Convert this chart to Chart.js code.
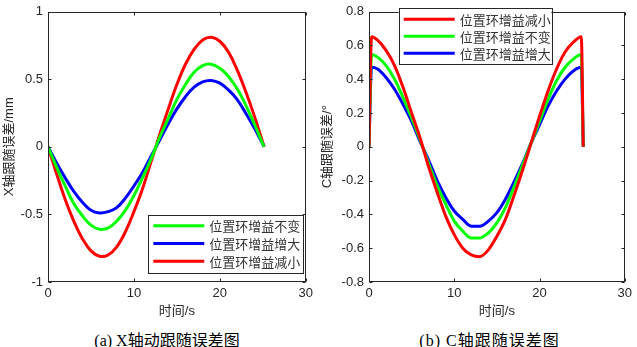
<!DOCTYPE html>
<html>
<head>
<meta charset="utf-8">
<script src="https://cdn.jsdelivr.net/npm/chart.js"></script>
<style>
  body { margin: 0; background: #fff; }
  #wrap { position: relative; width: 637px; height: 347px; overflow: hidden; }
  #chartA { position: absolute; left: 0; top: 0; }
  #chartB { position: absolute; left: 318px; top: 0; }
  .cap { position: absolute; top: 327px; height: 20px; line-height: 20px; font: 16px "Liberation Serif", "Noto Sans CJK SC", serif; color: #000; text-align: center; white-space: nowrap; }
</style>
</head>
<body>
<div id="wrap">
  <canvas id="chartA" width="318" height="322"></canvas>
  <canvas id="chartB" width="319" height="322"></canvas>
  <div class="cap" style="left:0;width:334px">(a) X轴动跟随误差图</div>
  <div class="cap" style="left:318px;width:343px;letter-spacing:1px">(b) C轴跟随误差图</div>
</div>
<script>
// (a) X axis following error, mm
const timeA = [0, 1, 2, 3, 4, 5, 6, 7, 8, 9, 10, 11, 12, 13, 14, 15, 16, 17, 18, 19, 20, 21, 22, 23, 24, 25, 25.15];
const xKeep = [0, -0.15, -0.29, -0.42, -0.51, -0.58, -0.61, -0.60, -0.55, -0.47, -0.36, -0.23, -0.09, 0.07, 0.21, 0.35, 0.46, 0.55, 0.60, 0.61, 0.58, 0.52, 0.43, 0.31, 0.17, 0.02, 0];
const xUp   = [0, -0.12, -0.23, -0.33, -0.41, -0.47, -0.49, -0.48, -0.45, -0.38, -0.29, -0.19, -0.07, 0.05, 0.17, 0.28, 0.37, 0.44, 0.48, 0.49, 0.47, 0.42, 0.35, 0.25, 0.14, 0.02, 0];
const xDown = [0, -0.20, -0.39, -0.55, -0.68, -0.77, -0.81, -0.80, -0.74, -0.63, -0.48, -0.31, -0.11, 0.09, 0.28, 0.46, 0.61, 0.72, 0.79, 0.81, 0.78, 0.70, 0.57, 0.41, 0.23, 0.03, 0];

// (b) C axis following error, degrees
const timeB = [0, 0.3, 1, 2, 3, 4, 5, 6, 7, 8, 9, 10, 11, 12, 13, 14, 15, 16, 17, 18, 19, 20, 21, 22, 23, 24, 24.9, 25.13];
const cDown = [0, 0.65, 0.63, 0.57, 0.48, 0.35, 0.20, 0.05, -0.12, -0.27, -0.41, -0.52, -0.60, -0.64, -0.65, -0.61, -0.53, -0.43, -0.29, -0.14, 0.02, 0.18, 0.33, 0.46, 0.56, 0.62, 0.65, 0];
const cKeep = [0, 0.545, 0.53, 0.48, 0.40, 0.29, 0.17, 0.04, -0.10, -0.23, -0.34, -0.44, -0.50, -0.54, -0.54, -0.51, -0.45, -0.36, -0.24, -0.11, 0.02, 0.15, 0.28, 0.39, 0.47, 0.52, 0.545, 0];
const cUp   = [0, 0.47, 0.46, 0.41, 0.34, 0.25, 0.15, 0.03, -0.08, -0.20, -0.30, -0.38, -0.43, -0.47, -0.47, -0.44, -0.39, -0.31, -0.21, -0.10, 0.02, 0.13, 0.24, 0.33, 0.40, 0.45, 0.47, 0];

const xTicks = [0, 10, 20, 30];
const yTicksA = [-1, -0.5, 0, 0.5, 1];
const yTicksB = [-0.8, -0.6, -0.4, -0.2, 0, 0.2, 0.4, 0.6, 0.8];

const nameKeep = '位置环增益不变';
const nameUp = '位置环增益增大';
const nameDown = '位置环增益减小';

const axisColor = '#262626';
const sansFont = '"Liberation Sans", "Noto Sans CJK SC", sans-serif';

function pts(time, vals) {
  return time.map((t, i) => ({ x: t, y: vals[i] }));
}

function line(label, color, time, vals, mode) {
  return {
    label: label,
    data: pts(time, vals),
    borderColor: color,
    backgroundColor: color,
    borderWidth: 3,
    pointRadius: 0,
    fill: false,
    tension: 0.4,
    cubicInterpolationMode: mode,
  };
}

// box around the plot with inward tick marks (matlab look)
const framePlugin = {
  id: 'frame',
  afterDatasetsDraw(chart) {
    const { ctx, chartArea: a, scales } = chart;
    const l = Math.round(a.left) + 0.5, r = Math.round(a.right) - 0.5;
    const t = Math.round(a.top) + 0.5, b = Math.round(a.bottom) - 0.5;
    ctx.save();
    ctx.strokeStyle = axisColor;
    ctx.lineWidth = 1;
    ctx.strokeRect(l, t, r - l, b - t);
    ctx.beginPath();
    scales.x.ticks.forEach(tk => {
      const px = Math.round(scales.x.getPixelForValue(tk.value)) + 0.5;
      ctx.moveTo(px, b); ctx.lineTo(px, b - 3);
      ctx.moveTo(px, t); ctx.lineTo(px, t + 3);
    });
    scales.y.ticks.forEach(tk => {
      const py = Math.round(scales.y.getPixelForValue(tk.value)) + 0.5;
      ctx.moveTo(l, py); ctx.lineTo(l + 3, py);
      ctx.moveTo(r, py); ctx.lineTo(r - 3, py);
    });
    ctx.stroke();
    ctx.restore();
  }
};

// legend box inside the axes
const boxLegend = {
  id: 'boxLegend',
  afterDraw(chart, args, opts) {
    const { ctx } = chart;
    const n = chart.data.datasets.length;
    ctx.save();
    ctx.fillStyle = '#fff';
    ctx.fillRect(opts.x, opts.y, opts.w, opts.h);
    ctx.strokeStyle = axisColor;
    ctx.lineWidth = 1;
    ctx.strokeRect(Math.round(opts.x) + 0.5, Math.round(opts.y) + 0.5, Math.round(opts.w), Math.round(opts.h));
    let cy = opts.y + (opts.h - n * opts.rowH) / 2 + opts.rowH / 2;
    ctx.font = '13px "Noto Sans CJK SC", sans-serif';
    ctx.textBaseline = 'middle';
    chart.data.datasets.forEach(ds => {
      ctx.strokeStyle = ds.borderColor;
      ctx.lineWidth = 3;
      ctx.beginPath();
      ctx.moveTo(opts.x + 5, cy);
      ctx.lineTo(opts.x + 56, cy);
      ctx.stroke();
      ctx.fillStyle = '#333';
      ctx.fillText(ds.label, opts.x + 61, cy + 0.5);
      cy += opts.rowH;
    });
    ctx.restore();
  }
};

function makeChart(id, datasets, yTicks, yTitle, yWidth, padRight, legend) {
  return new Chart(document.getElementById(id), {
    type: 'line',
    data: { datasets: datasets },
    plugins: [framePlugin, boxLegend],
    options: {
      responsive: false,
      animation: false,
      layout: { padding: { top: 7, right: padRight, left: 0, bottom: 0 } },
      plugins: {
        legend: { display: false },
        tooltip: { enabled: false },
        boxLegend: legend,
      },
      scales: {
        x: {
          type: 'linear',
          min: 0,
          max: 30,
          afterBuildTicks: s => { s.ticks = xTicks.map(v => ({ value: v })); },
          afterFit: s => { s.height = 40; },
          grid: { display: false, drawTicks: false },
          border: { display: false },
          ticks: {
            color: axisColor,
            padding: 5,
            maxRotation: 0,
            font: { family: sansFont, size: 13, lineHeight: 1 },
            callback: v => String(v),
          },
          title: {
            display: true,
            text: '时间/s',
            color: axisColor,
            padding: { top: 0, bottom: 3 },
            font: { family: sansFont, size: 13 },
          },
        },
        y: {
          type: 'linear',
          min: yTicks[0],
          max: yTicks[yTicks.length - 1],
          afterBuildTicks: s => { s.ticks = yTicks.map(v => ({ value: v })); },
          afterFit: s => { s.width = yWidth; },
          grid: { display: false, drawTicks: false },
          border: { display: false },
          ticks: {
            color: axisColor,
            padding: 5,
            font: { family: sansFont, size: 13, lineHeight: 1 },
            callback: v => String(v),
          },
          title: {
            display: true,
            text: yTitle,
            color: axisColor,
            padding: { top: 2, bottom: 0 },
            font: { family: sansFont, size: 13 },
          },
        },
      },
    },
  });
}

makeChart('chartA', [
  line(nameKeep, '#00ff00', timeA, xKeep, 'default'),
  line(nameUp, '#0000ff', timeA, xUp, 'default'),
  line(nameDown, '#ff0000', timeA, xDown, 'default'),
], yTicksA, 'X轴跟随误差/mm', 48, 12, { x: 148.3, y: 214.7, w: 155, h: 57.6, rowH: 17.8 });

makeChart('chartB', [
  line(nameDown, '#ff0000', timeB, cDown, 'monotone'),
  line(nameKeep, '#00ff00', timeB, cKeep, 'monotone'),
  line(nameUp, '#0000ff', timeB, cUp, 'monotone'),
], yTicksB, 'C轴跟随误差/°', 51, 9, { x: 80.7, y: 8.3, w: 152.6, h: 55.7, rowH: 17 });
</script>
</body>
</html>
